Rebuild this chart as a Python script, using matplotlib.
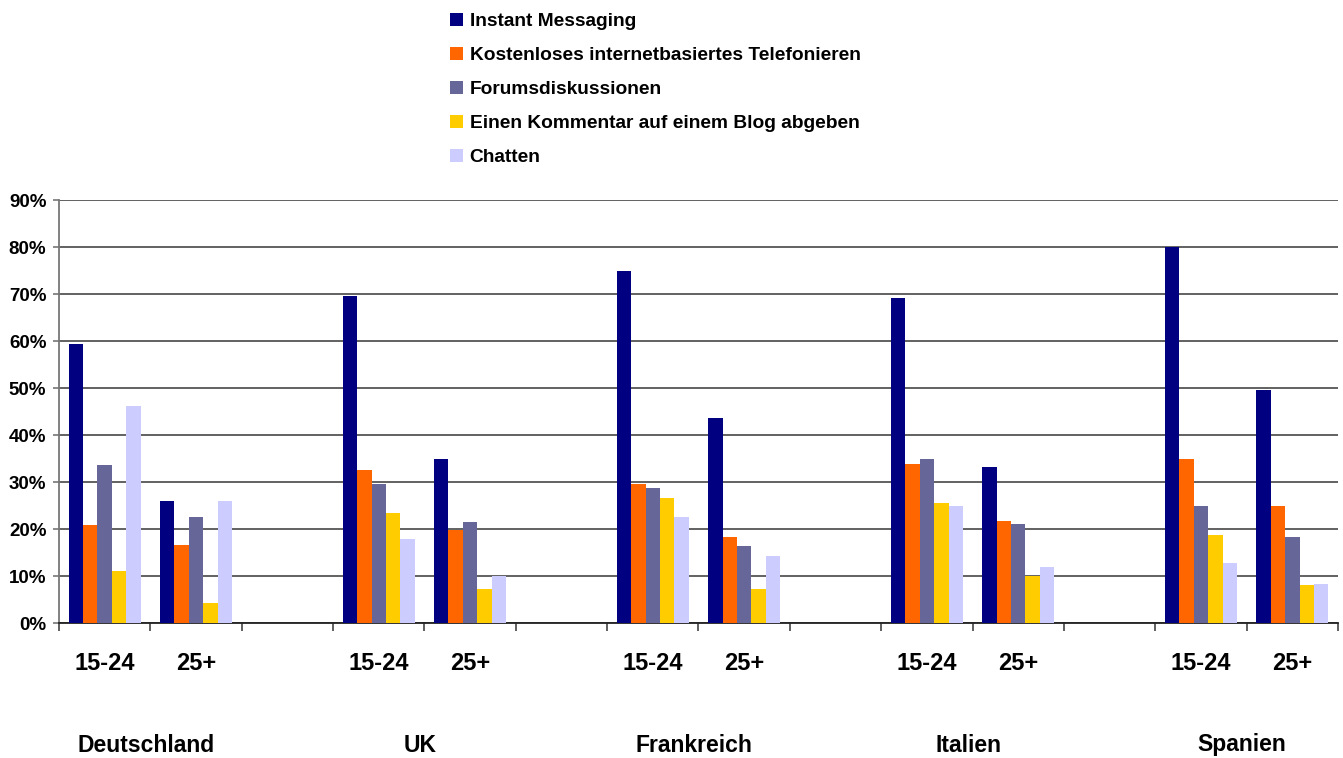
import matplotlib
matplotlib.use("Agg")
import matplotlib.pyplot as plt
import matplotlib.transforms as mtransforms
from matplotlib.patches import Patch
from matplotlib.ticker import PercentFormatter, FixedLocator
import numpy as np

plt.rcParams['font.family'] = ['Liberation Sans', 'DejaVu Sans']
plt.rcParams['font.weight'] = 'bold'

countries = ['Deutschland', 'UK', 'Frankreich', 'Italien', 'Spanien']
age_groups = ['15-24', '25+']
series_names = ['Instant Messaging',
                'Kostenloses internetbasiertes Telefonieren',
                'Forumsdiskussionen',
                'Einen Kommentar auf einem Blog abgeben',
                'Chatten']
colors = ['#000080', '#FF6600', '#666699', '#FFCC00', '#CCCCFF']

# percent values, order per country: 15-24, 25+
instant_messaging = [59.4, 25.9, 69.6, 34.9, 75.0, 43.6, 69.2, 33.1, 80.1, 49.6]
telefonieren = [20.8, 16.7, 32.5, 19.8, 29.5, 18.2, 33.8, 21.8, 34.9, 24.8]
forum = [33.6, 22.5, 29.5, 21.4, 28.7, 16.3, 34.9, 21.0, 25.0, 18.2]
blog = [11.0, 4.3, 23.3, 7.3, 26.5, 7.3, 25.5, 10.1, 18.8, 8.0]
chatten = [46.2, 25.9, 17.8, 10.1, 22.5, 14.2, 25.0, 12.0, 12.7, 8.4]
series = [instant_messaging, telefonieren, forum, blog, chatten]

# each country uses two slots followed by one empty slot
slots = np.array([c * 3 + a for c in range(len(countries)) for a in range(2)])
n_slots = len(countries) * 3 - 1

fig = plt.figure(figsize=(13.43, 7.58), dpi=100)
ax = fig.add_axes([0.0439, 0.1781, 0.9524, 0.558])

width = 0.158
for i, (vals, col) in enumerate(zip(series, colors)):
    ax.bar(slots + (i - 2) * width, vals, width=width, color=col,
           edgecolor='none', zorder=3)

ax.set_xlim(-0.5, n_slots - 0.5)
ax.set_ylim(0, 90)
ax.set_yticks(np.arange(0, 91, 10))
ax.yaxis.set_major_formatter(PercentFormatter(decimals=0))
ax.grid(axis='y', color='#555555', linewidth=1.3, zorder=1)
ax.set_axisbelow(True)

ax.set_xticks(slots)
ax.set_xticklabels(age_groups * len(countries), fontsize=17, fontweight='bold')
ax.xaxis.set_minor_locator(FixedLocator(np.arange(-0.5, n_slots, 1.0)))
ax.tick_params(axis='x', which='major', length=0, pad=21)
ax.tick_params(axis='x', which='minor', length=6, width=1.2, color='#444444')
ax.tick_params(axis='y', length=4, width=1.2, color='#777777', pad=5,
               labelsize=13.5)
for lab in ax.get_yticklabels():
    lab.set_fontweight('bold')

for s in ['top', 'right']:
    ax.spines[s].set_visible(False)
ax.spines['left'].set_color('#777777')
ax.spines['left'].set_linewidth(1.3)
ax.spines['bottom'].set_color('#222222')
ax.spines['bottom'].set_linewidth(1.3)

trans = mtransforms.blended_transform_factory(ax.transData, fig.transFigure)
for c, name in enumerate(countries):
    ax.text(c * 3 + 0.45, 1 - 745 / 758, name, transform=trans,
            ha='center', va='center', fontsize=16.5, fontweight='bold')

handles = [Patch(facecolor=col, edgecolor='none') for col in colors]
fig.legend(handles, series_names, loc='upper left',
           bbox_to_anchor=(440 / 1343, 1 - 3 / 758), frameon=False,
           prop={'weight': 'bold', 'size': 13.8},
           handlelength=0.7, handleheight=0.7, handletextpad=0.35,
           labelspacing=0.87, borderpad=0)

fig.savefig('out.png', dpi=100)
